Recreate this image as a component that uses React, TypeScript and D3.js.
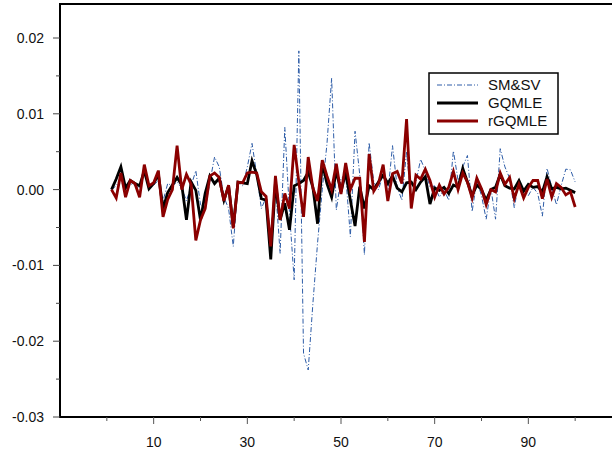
import React from "react";
import * as d3 from "d3";

const W = 612;
const H = 454;

// x = 1..100 (values in units of 0.001)
const smsv = [
  0.0, 0.5, 1.5, -0.8, 0.8, 0.5, 0.2, 2.0, 0.3, 0.6,
  1.2, -1.5, 0.8, 0.5, 1.0, 0.2, -1.5, 0.5, 2.5, -2.0,
  -2.7, 1.0, 4.3, 3.0, -1.0, -2.5, -7.5, 1.0, 0.5, 3.0,
  6.1, 2.0, -2.5, -1.0, -6.0, 0.5, -8.4, 8.2, -3.0, -11.9,
  18.3, -21.6, -23.8, -15.0, -7.0, 0.0, 6.0, 14.7, -2.7, 1.5,
  2.0, -6.2, 7.7, 2.0, -8.6, 6.2, 1.0, 0.0, 2.0, -0.5,
  5.8, 0.3, -1.4, 5.0, -1.6, 1.0, 4.0, 2.5, 0.3, 0.5,
  -1.0, 0.0, -1.4, 5.1, 1.2, 3.0, 4.5, -2.9, 1.2, -0.8,
  -3.9, 0.2, -3.9, 5.4, 3.0, 1.5, -2.4, 1.2, 0.0, -0.8,
  0.3, -0.5, -3.5, 2.8, 0.3, -2.0, 0.5, 2.7, 2.6, 1.0,
];

const gqmle = [
  0.0, 1.4, 3.0, 0.2, 1.2, 0.8, 0.5, 2.5, 0.1, 0.8,
  2.0, -2.5, -0.4, 0.6, 1.6, 0.6, -4.0, 1.0, -0.1, -4.0,
  -0.5, 1.8, 0.8, 1.5, -1.4, 0.5, -4.9, 1.0, 0.9, 0.8,
  3.8, 2.0, -1.2, -1.4, -9.2, 0.9, -4.0, -1.8, -5.3, 0.5,
  0.8, 1.2, 2.3, 0.3, -4.5, 3.5, 0.8, -1.0, 2.5, -0.3,
  2.3, -1.4, -4.8, 0.4, -2.5, 0.5, 0.0, 1.0, 1.9, 0.8,
  1.8, 0.2, -0.3, 0.9, 1.0, 0.0, 1.0, 1.7, -1.9, 0.2,
  -0.1, 0.3, -0.5, 0.6, 0.3, 2.8, 1.0, -0.8, 0.6, 0.0,
  -1.4, 0.0, 0.3, 2.0, 0.5, 0.2, 0.1, 1.2, -0.2, 0.7,
  0.3, 0.4, -0.3, 1.7, 0.1, 0.3, 0.1, 0.2, -0.1, -0.4,
];

const rgqmle = [
  0.0, -1.1, 2.2, -1.0, 1.2, 0.8, -1.0, 3.3, 0.5, 0.9,
  2.5, -3.6, -1.3, 0.0, 5.8, 0.0, 2.0, 0.7, -6.7, -4.0,
  -2.5, 1.8, 2.2, 1.6, -1.5, 0.6, -5.1, 1.0, 0.9, 2.2,
  2.3, 2.2, -0.3, -0.9, -7.5, 1.8, -4.0, -0.5, -2.5, 5.9,
  1.0, -3.6, 4.3, 0.2, -1.5, 3.9, 1.8, 0.0, 3.4, -0.6,
  3.5, 0.0, 1.5, 1.5, -6.9, 4.7, -0.2, 0.8, 3.3, -1.5,
  2.1, 2.4, 0.8, 9.3, -2.5, 1.9, 1.4, 2.7, 1.2, -1.0,
  0.6, -0.6, 0.3, 2.4, 0.0, 2.2, 1.0, -1.1, 1.5, 0.1,
  -2.0, 0.0, -0.3, 2.2, 0.7, 1.6, -1.2, 0.7, -1.1, 0.3,
  1.2, 1.2, -1.2, 1.4, -1.0, 0.8, 0.3, -0.7, -0.3, -2.3,
];

const yTicks = [0.02, 0.01, 0.0, -0.01, -0.02, -0.03];
const yTickLabels = ["0.02", "0.01", "0.00", "-0.01", "-0.02", "-0.03"];
const yMinorTicks = [0.015, 0.005, -0.005, -0.015, -0.025];
const xTicks = [10, 30, 50, 70, 90];
const xMinorTicks = [0, 20, 40, 60, 80, 100];

const legendNames = ["SM&SV", "GQMLE", "rGQMLE"];

export default function App() {
  const x = d3.scaleLinear().domain([-10, 110]).range([60, 622]);
  const y = d3.scaleLinear().domain([-0.03, 0.02]).range([417, 38]);
  const plotTop = 4;
  const left = 60;
  const bottom = 417;

  const mk = (arr: number[]) =>
    d3
      .line<number>()
      .x((_, i) => x(i + 1))
      .y((v) => y(v * 0.001))(arr) as string;

  const font = "Arial, 'Liberation Sans', sans-serif";

  const series = [
    { name: legendNames[0], d: mk(smsv), color: "#2e5da8", width: 1, dash: "5,2,1,2" },
    { name: legendNames[1], d: mk(gqmle), color: "#000000", width: 2.8, dash: undefined },
    { name: legendNames[2], d: mk(rgqmle), color: "#8b0000", width: 2.8, dash: undefined },
  ];

  const lgX = 429, lgY = 73, lgW = 129, lgH = 61;
  const rowY = [85, 103, 121];

  return (
    <svg
      width={W}
      height={H}
      style={{ position: "absolute", left: 0, top: 0, background: "#fff" }}
    >
      <rect x={0} y={0} width={W} height={H} fill="#fff" />
      <g fill="none" strokeLinejoin="miter" strokeLinecap="butt">
        {series.map((s) => (
          <path
            key={s.name}
            d={s.d}
            stroke={s.color}
            strokeWidth={s.width}
            strokeDasharray={s.dash}
          />
        ))}
      </g>
      <line x1={left} x2={W} y1={plotTop} y2={plotTop} stroke="#000" strokeWidth={2} />
      <line x1={left} x2={left} y1={plotTop - 1} y2={bottom + 1} stroke="#000" strokeWidth={2} />
      <line x1={left - 1} x2={W} y1={bottom} y2={bottom} stroke="#000" strokeWidth={2} />
      {yTicks.map((t, i) => (
        <g key={"yt" + i}>
          <line x1={53} x2={left} y1={y(t)} y2={y(t)} stroke="#444" strokeWidth={1} />
          <text
            x={44}
            y={y(t)}
            dy="0.36em"
            textAnchor="end"
            fontFamily={font}
            fontSize={14}
            fill="#111"
          >
            {yTickLabels[i]}
          </text>
        </g>
      ))}
      {yMinorTicks.map((t, i) => (
        <line key={"ym" + i} x1={56} x2={left} y1={y(t)} y2={y(t)} stroke="#444" strokeWidth={1} />
      ))}
      {xTicks.map((t, i) => (
        <g key={"xt" + i}>
          <line x1={x(t)} x2={x(t)} y1={bottom} y2={424} stroke="#555" strokeWidth={1} />
          <text
            x={x(t)}
            y={446.5}
            textAnchor="middle"
            fontFamily={font}
            fontSize={14}
            fill="#111"
          >
            {String(t)}
          </text>
        </g>
      ))}
      {xMinorTicks.map((t, i) => (
        <line key={"xm" + i} x1={x(t)} x2={x(t)} y1={bottom} y2={421} stroke="#555" strokeWidth={1} />
      ))}
      <rect x={lgX} y={lgY} width={lgW} height={lgH} fill="#fff" stroke="#000" strokeWidth={1.5} />
      {series.map((s, i) => (
        <g key={"lg" + i}>
          <line
            x1={437}
            x2={478}
            y1={rowY[i]}
            y2={rowY[i]}
            stroke={s.color}
            strokeWidth={s.width}
            strokeDasharray={s.dash}
          />
          <text
            x={488}
            y={rowY[i]}
            dy="0.36em"
            fontFamily={font}
            fontSize={15}
            fill="#111"
          >
            {s.name}
          </text>
        </g>
      ))}
    </svg>
  );
}
